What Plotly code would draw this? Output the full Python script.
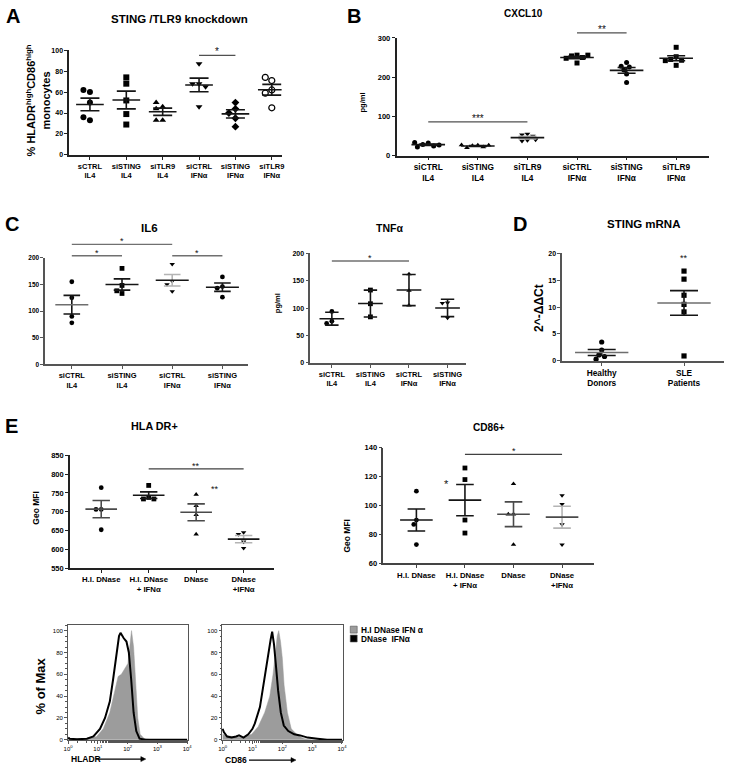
import numpy as np
import plotly.graph_objects as go

W, H = 747, 772
FONT = "Arial, Liberation Sans, Helvetica, sans-serif"

# ---------------- data ----------------
a_labels = ["sCTRL<br>IL4", "siSTING<br>IL4", "siTLR9<br>IL4", "siCTRL<br>IFNα", "siSTING<br>IFNα", "siTLR9<br>IFNα"]
a_vals = [
    [60, 62, 50, 33, 36],
    [74, 68, 52, 39, 29],
    [46, 50, 44, 33, 33],
    [87, 68, 68, 65, 46],
    [44, 50, 40, 35, 27],
    [71, 74, 62, 59, 45],
]
b_labels = ["siCTRL<br>IL4", "siSTING<br>IL4", "siTLR9<br>IL4", "siCTRL<br>IFNα", "siSTING<br>IFNα", "siTLR9<br>IFNα"]
b_vals = [
    [32, 28, 24, 22, 27, 33],
    [26, 25, 22, 20, 26, 27],
    [55, 53, 50, 39, 37, 40],
    [256, 254, 250, 248, 236, 256],
    [237, 228, 226, 218, 208, 186],
    [276, 252, 245, 243, 230, 242],
]
c_labels = ["siCTRL<br>IL4", "siSTING<br>IL4", "siCTRL<br>IFNα", "siSTING<br>IFNα"]
il6_vals = [[155, 125, 90, 78], [180, 148, 133, 138], [188, 156, 150, 137], [164, 146, 143, 126]]
tnf_vals = [[94, 76, 72], [133, 108, 84], [162, 132, 105], [110, 109, 82]]
d_labels = ["Healthy<br>Donors", "SLE<br>Patients"]
d_vals = [[3.5, 2.0, 1.1, 0.8, 0.3], [16.7, 15.2, 12.2, 10.5, 9.1, 0.9]]
e_labels = ["H.I. DNase", "H.I. DNase<br>+ IFNα", "DNase", "DNase<br>+IFNα"]
hla_vals = [[764, 706, 706, 652], [770, 738, 734, 734], [746, 716, 692, 640], [645, 640, 620, 603]]
cd86_vals = [[110, 90, 87, 73], [126, 118, 90, 81], [115, 94, 94, 73], [107, 101, 87, 73]]

# flow histograms (log10 fluorescence, % of max)
hla_gray_log = [0.0, 0.3, 0.63, 0.96, 1.18, 1.40, 1.57, 1.68, 1.79, 1.90, 2.01, 2.09, 2.13, 2.20, 2.27, 2.34, 2.42, 2.56, 2.8, 4.0]
hla_gray_pct = [0.5, 0.5, 1, 3, 10, 25, 45, 58, 60, 65, 70, 90, 100, 85, 50, 20, 5, 1, 0, 0]
hla_black_log = [0.0, 0.05, 0.3, 0.63, 0.85, 1.07, 1.24, 1.40, 1.51, 1.62, 1.71, 1.76, 1.82, 1.87, 1.96, 2.04, 2.12, 2.20, 2.29, 2.40, 2.6, 4.0]
hla_black_pct = [2, 1, 0.5, 1, 3, 10, 20, 35, 55, 75, 95, 98, 95, 93, 90, 80, 55, 25, 8, 1, 0, 0]
cd86_gray_log = [0.0, 0.1, 0.31, 0.64, 0.97, 1.19, 1.41, 1.58, 1.69, 1.77, 1.83, 1.88, 1.94, 2.00, 2.06, 2.17, 2.30, 2.52, 2.74, 3.0, 4.0]
cd86_gray_pct = [5, 4, 3, 2, 5, 12, 25, 40, 60, 80, 95, 100, 90, 75, 50, 25, 10, 4, 1, 0, 0]
cd86_black_log = [0.0, 0.04, 0.15, 0.3, 0.45, 0.55, 0.7, 0.86, 1.0, 1.08, 1.25, 1.36, 1.47, 1.55, 1.61, 1.66, 1.72, 1.78, 1.86, 1.95, 2.05, 2.2, 2.4, 2.6, 2.85, 3.18, 3.5, 4.0]
cd86_black_pct = [10, 7, 3, 2, 3, 4, 2, 5, 10, 15, 30, 50, 70, 85, 92, 99, 88, 70, 45, 25, 13, 8, 5, 4, 2, 1, 0, 0]
hist_ticks = [1, 10, 100, 1000, 10000]
hist_ticktext = ["10<sup>0</sup>", "10<sup>1</sup>", "10<sup>2</sup>", "10<sup>3</sup>", "10<sup>4</sup>"]

# ---------------- helpers ----------------
DK = "#151515"
GR = "#6e6e6e"
LG = "#b4b4b4"
AX = "#222222"

fig = go.Figure()
layout = dict(width=W, height=H, margin=dict(l=0, r=0, t=0, b=0),
              paper_bgcolor="white", plot_bgcolor="rgba(0,0,0,0)", showlegend=False,
              font=dict(family=FONT, color="black"))
annotations = []
shapes = []
axis_n = [0]


def fx(p):
    return p / W


def fy(p):
    return 1 - p / H


def add_axes(xpx, ypx, xr, yr, xtickvals, xticktext, ytickvals, yticktext=None,
             xfont=8, yfont=8, xtype="linear", mirror=False, ticklen=3,
             minor_x=None, minor_y=None, linecolor=AX, linewidth=1.5):
    axis_n[0] += 1
    n = axis_n[0]
    sx = "" if n == 1 else str(n)
    tf_x = dict(size=xfont, family=FONT, weight="bold", color="black")
    tf_y = dict(size=yfont, family=FONT, weight="bold", color="black")
    xa = dict(domain=[fx(xpx[0]), fx(xpx[1])], range=xr, anchor="y" + sx, type=xtype,
              tickmode="array", tickvals=xtickvals, ticktext=xticktext, ticks="outside",
              ticklen=ticklen, tickwidth=1.2, tickcolor=linecolor, showline=True,
              linecolor=linecolor, linewidth=linewidth, mirror=mirror, showgrid=False,
              zeroline=False, tickfont=tf_x, fixedrange=True)
    ya = dict(domain=[fy(ypx[1]), fy(ypx[0])], range=yr, anchor="x" + sx,
              tickmode="array", tickvals=ytickvals, ticks="outside", ticklen=ticklen,
              tickwidth=1.2, tickcolor=linecolor, showline=True, linecolor=linecolor,
              linewidth=linewidth, mirror=mirror, showgrid=False, zeroline=False,
              tickfont=tf_y, fixedrange=True)
    if yticktext is not None:
        ya["ticktext"] = yticktext
    if minor_x:
        xa["minor"] = minor_x
    if minor_y:
        ya["minor"] = minor_y
    layout["xaxis" + sx] = xa
    layout["yaxis" + sx] = ya
    ppc = (xpx[1] - xpx[0]) / (xr[1] - xr[0])
    ppu = (ypx[1] - ypx[0]) / (yr[1] - yr[0])
    return sx, ppc, ppu


def swarm(vals, ppu, ppc, size):
    placed, offs = [], []
    step = size * 0.55 / ppc
    seq = [0]
    for k in range(1, 12):
        seq += [-k, k]
    for v in vals:
        chosen = 0
        for k in seq:
            o = k * step
            ok = True
            for po, pv in placed:
                dx = (o - po) * ppc
                dy = (v - pv) * ppu
                if dx * dx + dy * dy < (size * 0.95) ** 2:
                    ok = False
                    break
            if ok:
                chosen = o
                break
        placed.append((chosen, v))
        offs.append(chosen)
    return np.array(offs)


def draw_groups(sx, ppc, ppu, vals_list, symbols, msize, mean_half_px, cap_px,
                mean_colors, err_colors, err="sem", lw=1.6):
    for i, vals in enumerate(vals_list):
        v = np.array(vals, dtype=float)
        offs = swarm(v, ppu, ppc, msize)
        sym = symbols[i]
        open_sym = sym.endswith("open")
        fig.add_trace(go.Scatter(
            x=i + offs, y=v, mode="markers", xaxis="x" + sx, yaxis="y" + sx,
            cliponaxis=False, hoverinfo="skip",
            marker=dict(symbol=sym, size=msize, color="black",
                        line=dict(width=1.2 if open_sym else 0, color="black"))))
        m = v.mean()
        s = v.std(ddof=1)
        e = s / np.sqrt(len(v)) if err == "sem" else s
        mh = mean_half_px / ppc
        fig.add_trace(go.Scatter(
            x=[i], y=[m], mode="markers", xaxis="x" + sx, yaxis="y" + sx,
            cliponaxis=False, hoverinfo="skip",
            marker=dict(size=1, color=err_colors[i]),
            error_y=dict(type="data", array=[e], color=err_colors[i], thickness=lw, width=cap_px)))
        fig.add_trace(go.Scatter(
            x=[i - mh, i + mh], y=[m, m], mode="lines", xaxis="x" + sx, yaxis="y" + sx,
            cliponaxis=False, hoverinfo="skip",
            line=dict(color=mean_colors[i], width=lw)))


def sig(sx, yr, i, j, val, text, color="#505050", size=10, line=True, yshift=-4):
    frac = (val - yr[0]) / (yr[1] - yr[0])
    yref = "y" + sx + " domain"
    if line:
        shapes.append(dict(type="line", xref="x" + sx, yref=yref, x0=i, x1=j, y0=frac, y1=frac,
                           line=dict(color=color, width=1.3)))
    annotations.append(dict(xref="x" + sx, yref=yref, x=(i + j) / 2, y=frac, text=text,
                            showarrow=False, yanchor="bottom", yshift=yshift,
                            font=dict(size=size, family=FONT, color="#111111")))


def text(px, py, s, size=11, bold=True, angle=0, xanchor="center", yanchor="middle", color="black"):
    annotations.append(dict(xref="paper", yref="paper", x=fx(px), y=fy(py), text=s,
                            showarrow=False, textangle=angle, xanchor=xanchor, yanchor=yanchor,
                            font=dict(size=size, family=FONT, color=color,
                                      weight="bold" if bold else "normal")))


# ---------------- Panel A ----------------
yrA = [0, 100]
sx, ppc, ppu = add_axes([66, 281], [46.7, 152.7], [-0.57, 5.27], yrA,
                        list(range(6)), a_labels, [0, 20, 40, 60, 80, 100], xfont=7.5, yfont=7)
draw_groups(sx, ppc, ppu, a_vals,
            ["circle", "square", "triangle-up", "triangle-down", "diamond", "circle-open"],
            6, 14, 9.5, [DK] * 6, [DK] * 6)
sig(sx, yrA, 3, 4, 95, "*")
text(9, 12, "A", size=20)
text(178, 15, "STING /TLR9 knockdown", size=11.5)
text(34, 98, "% HLADR<sup>high</sup>CD86<sup>high</sup><br>monocytes", size=11, angle=-90)

# ---------------- Panel B ----------------
yrB = [0, 300]
sx, ppc, ppu = add_axes([397.3, 714], [34.3, 153.3], [-0.64, 5.67], yrB,
                        list(range(6)), b_labels, [0, 100, 200, 300], xfont=8.3, yfont=7.5)
draw_groups(sx, ppc, ppu, b_vals,
            ["circle", "triangle-up", "triangle-down", "square", "circle", "square"],
            5, 17, 9, [DK] * 6, [DK, DK, LG, DK, DK, DK])
sig(sx, yrB, 0, 2, 85.6, "***")
sig(sx, yrB, 3, 4, 313, "**")
text(354, 12, "B", size=20)
text(526, 10, "CXCL10", size=10)
text(363, 100, "pg/ml", size=7.5, angle=-90)

# ---------------- Panel C : IL6 ----------------
yrC = [0, 200]
sx, ppc, ppu = add_axes([41.7, 247], [256.7, 364.7], [-0.53, 3.51], yrC,
                        list(range(4)), c_labels, [0, 50, 100, 150, 200], xfont=7.5, yfont=6.5,
                        linecolor="#555555")
draw_groups(sx, ppc, ppu, il6_vals, ["circle", "square", "triangle-down", "circle"],
            4.8, 16.7, 8.3, [GR, DK, DK, DK], [DK, DK, LG, DK])
sig(sx, yrC, 0, 2, 224.8, "*", color="#707070", size=9)
sig(sx, yrC, 0, 1, 203.7, "*", color="#707070", size=9)
sig(sx, yrC, 2, 3, 203.7, "*", color="#707070", size=9)
text(8, 223, "C", size=20)
text(147, 227, "IL6", size=11.5)

# ---------------- Panel C : TNF ----------------
yrT = [0, 200]
sx, ppc, ppu = add_axes([310, 467.3], [252.3, 363.1], [-0.56, 3.47], yrT,
                        list(range(4)), c_labels, [0, 50, 100, 150, 200], xfont=7.5, yfont=7,
                        linecolor="#555555")
draw_groups(sx, ppc, ppu, tnf_vals, ["circle", "square", "triangle-up", "triangle-down"],
            4.8, 12.5, 6.7, [DK] * 4, [DK] * 4, err="sd")
sig(sx, yrT, 0, 2, 186, "*", color="#707070", size=9)
text(390, 227, "TNFα", size=10.5)
text(277, 303, "pg/ml", size=7.5, angle=-90)

# ---------------- Panel D ----------------
yrD = [0, 20]
sx, ppc, ppu = add_axes([565, 728.3], [252.3, 361], [-0.48, 1.48], yrD,
                        [0, 1], d_labels, [0, 5, 10, 15, 20], xfont=8.3, yfont=7,
                        linecolor="#555555")
draw_groups(sx, ppc, ppu, d_vals, ["circle", "square"], 5.2, 27, 14,
            [GR, GR], [DK, DK])
sig(sx, yrD, 1, 1, 18.9, "**", line=False, size=9, yshift=-6)
text(522, 223, "D", size=20)
text(647, 223, "STING mRNA", size=11.5)
text(542, 307, "2^-ΔΔCt", size=12, angle=-90)

# ---------------- Panel E : HLA DR ----------------
yrH = [550, 850]
sx, ppc, ppu = add_axes([66.7, 273.3], [456.7, 570.7], [-0.66, 3.64], yrH,
                        list(range(4)), e_labels, list(range(550, 851, 50)), xfont=7.8, yfont=7.5)
draw_groups(sx, ppc, ppu, hla_vals, ["circle", "square", "triangle-up", "triangle-down"],
            4.8, 16, 8.7, ["#4a4a4a", DK, "#4a4a4a", DK], ["#4a4a4a", DK, "#4a4a4a", LG])
sig(sx, yrH, 1, 3, 814, "**", color="#404040", size=9)
sig(sx, yrH, 2.39, 2.39, 757, "**", line=False, size=9, yshift=-6)
text(8, 427, "E", size=20)
text(152, 427, "HLA DR+", size=10.8)
text(32, 510, "Geo MFI", size=8.5, angle=-90)

# ---------------- Panel E : CD86 ----------------
yrK = [60, 140]
sx, ppc, ppu = add_axes([384, 597.3], [449, 566], [-0.68, 3.66], yrK,
                        list(range(4)), e_labels, [60, 80, 100, 120, 140], xfont=7.8, yfont=7.5,
                        linecolor="#444444")
draw_groups(sx, ppc, ppu, cd86_vals, ["circle", "square", "triangle-up", "triangle-down"],
            4.8, 16.5, 8.8, [DK, DK, "#4a4a4a", "#4a4a4a"], [DK, DK, "#4a4a4a", LG])
sig(sx, yrK, 1, 3, 135.4, "*", color="#404040", size=9)
sig(sx, yrK, 0.62, 0.62, 113.5, "*", line=False, size=11, yshift=-6)
text(491, 429, "CD86+", size=10.1)
text(347, 538, "Geo MFI", size=8.5, angle=-90)

# ---------------- Flow histograms ----------------
hist_sets = [
    ([64.3, 186], hla_gray_log, hla_gray_pct, hla_black_log, hla_black_pct),
    ([220.7, 342.7], cd86_gray_log, cd86_gray_pct, cd86_black_log, cd86_black_pct),
]
for xpx, glog, gpct, blog, bpct in hist_sets:
    sx, ppc, ppu = add_axes(xpx, [628.3, 745], [-0.02, 4.02], [-0.5, 105.2],
                            hist_ticks, hist_ticktext, [0, 20, 40, 60, 80, 100],
                            xfont=6, yfont=6, xtype="log", mirror=True, ticklen=2.5,
                            linecolor="#555555", linewidth=1,
                            minor_x=dict(ticks="outside", ticklen=1.5, tickcolor="#555555"),
                            minor_y=dict(ticks="outside", ticklen=1.5, dtick=5, tickcolor="#555555"))
    layout["xaxis" + sx]["tickfont"]["weight"] = "normal"
    layout["yaxis" + sx]["tickfont"]["weight"] = "normal"
    fig.add_trace(go.Scatter(x=10 ** np.array(glog), y=gpct, mode="lines", fill="tozeroy",
                             fillcolor="#9c9c9c", line=dict(color="#9c9c9c", width=0.5),
                             xaxis="x" + sx, yaxis="y" + sx, hoverinfo="skip"))
    fig.add_trace(go.Scatter(x=10 ** np.array(blog), y=bpct, mode="lines",
                             line=dict(color="black", width=2),
                             xaxis="x" + sx, yaxis="y" + sx, hoverinfo="skip"))

text(37, 690, "% of Max", size=13, angle=-90)
text(66, 764, "HLADR", size=8.5, xanchor="left")
text(222, 765, "CD86", size=8.5, xanchor="left")
for x0, x1, yy in [(93, 143.5, 764), (248, 295.5, 765)]:
    shapes.append(dict(type="line", xref="paper", yref="paper", x0=fx(x0), x1=fx(x1 - 3),
                       y0=fy(yy), y1=fy(yy), line=dict(color="black", width=1.2)))
    shapes.append(dict(type="path", xref="paper", yref="paper",
                       path=f"M {fx(x1)} {fy(yy)} L {fx(x1 - 5)} {fy(yy - 2.5)} L {fx(x1 - 5)} {fy(yy + 2.5)} Z",
                       fillcolor="black", line=dict(color="black", width=0.5)))

# legend for histograms
for y0, y1, col, lab in [(629.5, 636.5, "#9c9c9c", "H.I DNase IFN α"), (638.5, 645.5, "black", "DNase  IFNα")]:
    shapes.append(dict(type="rect", xref="paper", yref="paper", x0=fx(350.5), x1=fx(357.5),
                       y0=fy(y1), y1=fy(y0), fillcolor=col, line=dict(color="#555555", width=0.6)))
    text(359.5, (y0 + y1) / 2, lab, size=8.3, xanchor="left")

layout["annotations"] = annotations
layout["shapes"] = shapes
fig.update_layout(**layout)
fig.write_html("out.html", config={"displayModeBar": False},
               post_script="document.body.style.margin='0px';document.body.style.overflow='hidden';")
